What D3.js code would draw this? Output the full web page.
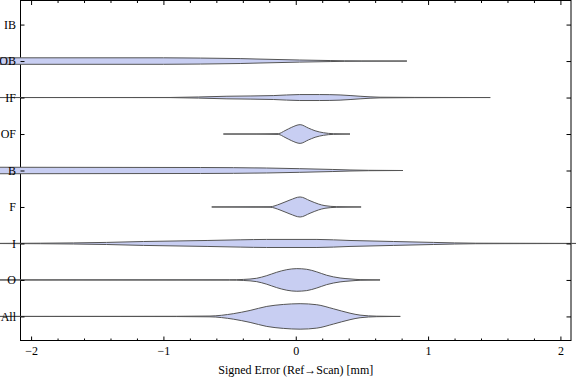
<!DOCTYPE html>
<html>
<head>
<meta charset="utf-8">
<script src="https://cdn.jsdelivr.net/npm/d3@7"></script>
<style>
  body { margin: 0; background: #fff; }
  svg { display: block; }
</style>
</head>
<body>
<svg id="chart"></svg>
<script>
const categories = ["All", "O", "I", "F", "B", "OF", "IF", "OB", "IB"];
const majorTicks = [-2, -1, 0, 1, 2];
const minorTicks = [-1.8, -1.6, -1.4, -1.2, -0.8, -0.6, -0.4, -0.2, 0.2, 0.4, 0.6, 0.8, 1.2, 1.4, 1.6, 1.8];

// violin outlines: [signed error, relative density]
const violinAll = [[-2.3, 0], [-0.9, 0.01], [-0.648, 0.03], [-0.472, 0.21], [-0.345, 0.46], [-0.219, 0.77], [-0.094, 0.92], [0.033, 0.98], [0.159, 0.9], [0.284, 0.59], [0.41, 0.25], [0.486, 0.1], [0.612, 0.02], [0.79, 0]];
const violinO = [[-2.3, 0], [-0.5, 0.01], [-0.396, 0.04], [-0.295, 0.13], [-0.219, 0.33], [-0.144, 0.59], [-0.068, 0.79], [0.008, 0.87], [0.083, 0.82], [0.159, 0.62], [0.234, 0.36], [0.335, 0.15], [0.41, 0.08], [0.486, 0.025], [0.637, 0]];
const violinI = [[-2.4, 0], [-1.93, 0.02], [-1.43, 0.08], [-1.15, 0.15], [-0.67, 0.23], [-0.42, 0.28], [-0.22, 0.31], [0.16, 0.31], [0.41, 0.23], [0.74, 0.15], [1.04, 0.08], [1.36, 0.02], [2.4, 0]];
const violinF = [[-0.635, 0], [-0.194, 0.02], [-0.119, 0.23], [-0.043, 0.54], [0.033, 0.77], [0.108, 0.48], [0.171, 0.23], [0.221, 0.1], [0.31, 0.025], [0.494, 0]];
const violinB = [[-2.3, 0.25], [-0.72, 0.23], [-0.22, 0.19], [0.03, 0.14], [0.28, 0.08], [0.41, 0.04], [0.55, 0.015], [0.81, 0]];
const violinOF = [[-0.547, 0], [-0.3, 0.005], [-0.132, 0.03], [-0.081, 0.26], [-0.03, 0.52], [0.033, 0.72], [0.095, 0.46], [0.146, 0.25], [0.209, 0.1], [0.284, 0.025], [0.41, 0]];
const violinIF = [[-2.3, 0], [-0.95, 0.005], [-0.52, 0.1], [-0.17, 0.15], [0.03, 0.23], [0.18, 0.23], [0.335, 0.2], [0.486, 0.1], [0.637, 0.025], [0.9, 0.01], [1.47, 0]];
const violinOB = [[-2.3, 0.25], [-1.0, 0.25], [-0.72, 0.23], [-0.42, 0.19], [-0.27, 0.15], [0.03, 0.08], [0.26, 0.04], [0.37, 0.02], [0.5, 0.008], [0.84, 0]];
const violinIB = [];

const violins = [
  { cat: "All", pts: violinAll },
  { cat: "O", pts: violinO },
  { cat: "I", pts: violinI },
  { cat: "F", pts: violinF },
  { cat: "B", pts: violinB },
  { cat: "OF", pts: violinOF },
  { cat: "IF", pts: violinIF },
  { cat: "OB", pts: violinOB },
  { cat: "IB", pts: violinIB }
];

const width = 576;
const height = 381;
const margin = { top: 0.5, right: 5, bottom: 40.5, left: 20.5 };
const font = "'Liberation Serif', 'Times New Roman', serif";

const svg = d3.select("#chart")
  .attr("width", width)
  .attr("height", height);

const x = d3.scaleLinear()
  .domain([-2.08, 2.08])
  .range([margin.left, width - margin.right]);

const y = d3.scalePoint()
  .domain(categories)
  .range([height - margin.bottom, margin.top])
  .padding(0.66);

const w = d3.scaleLinear()
  .domain([0, 1])
  .range([0, 13]);

// frame
svg.append("rect")
  .attr("x", margin.left)
  .attr("y", margin.top)
  .attr("width", width - margin.right - margin.left)
  .attr("height", height - margin.bottom - margin.top)
  .attr("fill", "none")
  .attr("stroke", "#000")
  .attr("stroke-width", 1);

// violins
const area = d3.area()
  .curve(d3.curveMonotoneX)
  .x(d => x(d[0]));

svg.append("g")
  .selectAll("path")
  .data(violins.filter(v => v.pts.length))
  .enter()
  .append("path")
  .attr("d", v => area
    .y0(d => y(v.cat) - w(d[1]))
    .y1(d => y(v.cat) + w(d[1]))(v.pts))
  .attr("fill", "#c8cef2")
  .attr("stroke", "#555")
  .attr("stroke-width", 1)
  .attr("stroke-linejoin", "round");

function styleAxis(g) {
  g.select(".domain").remove();
  g.selectAll("line").attr("stroke", "#000");
  g.selectAll("text")
    .attr("fill", "#000")
    .style("font-family", font)
    .style("font-size", "12px");
}

const yBottom = height - margin.bottom;

svg.append("g")
  .attr("transform", `translate(0,${yBottom})`)
  .call(d3.axisBottom(x).tickValues(majorTicks).tickSizeInner(-4).tickSizeOuter(0).tickPadding(6)
    .tickFormat(d => d < 0 ? "\u2212" + Math.abs(d) : d))
  .call(styleAxis);

svg.append("g")
  .attr("transform", `translate(0,${yBottom})`)
  .call(d3.axisBottom(x).tickValues(minorTicks).tickSizeInner(-2).tickSizeOuter(0).tickFormat(""))
  .call(styleAxis);

svg.append("g")
  .attr("transform", `translate(0,${margin.top})`)
  .call(d3.axisTop(x).tickValues(majorTicks).tickSizeInner(-4.5).tickSizeOuter(0).tickFormat(""))
  .call(styleAxis);

svg.append("g")
  .attr("transform", `translate(0,${margin.top})`)
  .call(d3.axisTop(x).tickValues(minorTicks).tickSizeInner(-2.5).tickSizeOuter(0).tickFormat(""))
  .call(styleAxis);

svg.append("g")
  .attr("transform", `translate(${margin.left},0)`)
  .call(d3.axisLeft(y).tickSizeInner(-4).tickSizeOuter(0).tickPadding(4.5))
  .call(styleAxis);

svg.append("g")
  .attr("transform", `translate(${width - margin.right},0)`)
  .call(d3.axisRight(y).tickSizeInner(-4.5).tickSizeOuter(0).tickFormat(""))
  .call(styleAxis);

// x title
svg.append("text")
  .attr("x", x(0))
  .attr("y", 374)
  .attr("text-anchor", "middle")
  .style("font-family", font)
  .style("font-size", "12px")
  .attr("fill", "#000")
  .text("Signed Error (Ref\u2192Scan) [mm]");
</script>
</body>
</html>
